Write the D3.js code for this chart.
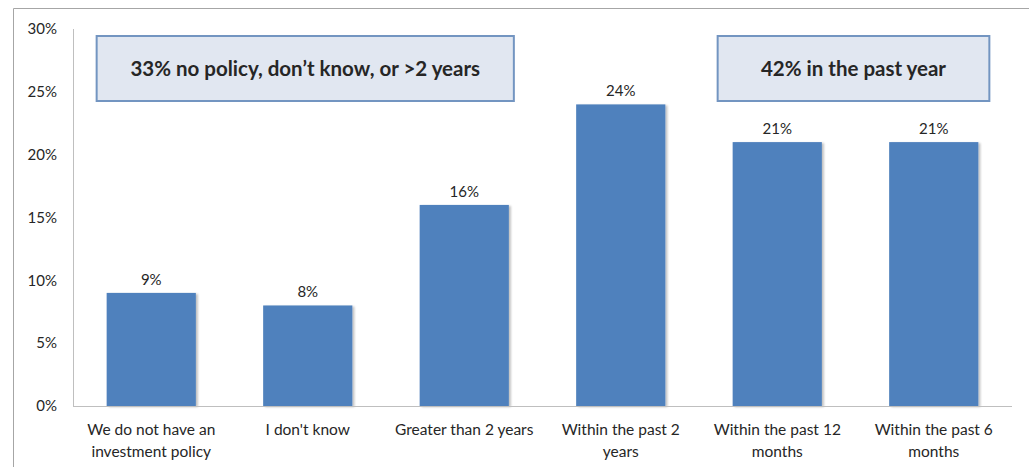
<!DOCTYPE html>
<html>
<head>
<meta charset="utf-8">
<script src="https://cdn.jsdelivr.net/npm/d3@7"></script>
<style>
  html, body { margin: 0; padding: 0; background: #ffffff; }
  svg { display: block; font-family: Lato, "Open Sans", sans-serif; }
</style>
</head>
<body>
<svg id="chart" width="1029" height="467"></svg>
<script>
// Survey responses: when was the investment policy last reviewed
const categories = [
  ["We do not have an", "investment policy"],
  ["I don't know"],
  ["Greater than 2 years"],
  ["Within the past 2", "years"],
  ["Within the past 12", "months"],
  ["Within the past 6", "months"]
];
const shares = [9, 8, 16, 24, 21, 21];
const yTicks = [0, 5, 10, 15, 20, 25, 30];
const calloutTexts = ["33% no policy, don\u2019t know, or >2 years", "42% in the past year"];
const calloutSpans = [[0, 2], [4, 5]];

const svg = d3.select("#chart");
const W = 1029, H = 467;
const margin = { top: 29, right: 17, bottom: 61, left: 73 };
const innerW = W - margin.left - margin.right;
const innerH = H - margin.top - margin.bottom;

// outer chart frame (top and left edges)
svg.append("path")
  .attr("d", `M13.5,${H} L13.5,8.5 L${W},8.5`)
  .attr("fill", "none")
  .attr("stroke", "#a6a6a6")
  .attr("stroke-width", 1);

const g = svg.append("g").attr("transform", `translate(${margin.left},${margin.top})`);

const x = d3.scaleBand()
  .domain(d3.range(categories.length))
  .range([0, innerW])
  .paddingInner(0.43)
  .paddingOuter(0.215);

const y = d3.scaleLinear().domain([0, 30]).range([innerH, 0]);

// y axis
const yAxis = d3.axisLeft(y)
  .tickValues(yTicks)
  .tickSize(0)
  .tickPadding(16)
  .tickFormat(d => d + "%");
const ya = g.append("g").call(yAxis);
ya.select(".domain").attr("stroke", "#bfbfbf").attr("d", `M0.5,0 V${innerH}`);
ya.selectAll("text")
  .attr("font-size", 15)
  .attr("fill", "#262626")
  .attr("font-family", "Lato, sans-serif");

// bars with a soft drop shadow
const defs = svg.append("defs");
const filt = defs.append("filter").attr("id", "shadow").attr("x", "-10%").attr("y", "-10%")
  .attr("width", "130%").attr("height", "130%");
filt.append("feGaussianBlur").attr("in", "SourceAlpha").attr("stdDeviation", 1.2).attr("result", "b");
filt.append("feOffset").attr("in", "b").attr("dx", 2).attr("dy", 1).attr("result", "o");
filt.append("feComponentTransfer").attr("in", "o").attr("result", "s")
  .append("feFuncA").attr("type", "linear").attr("slope", 0.25);
const fm = filt.append("feMerge");
fm.append("feMergeNode").attr("in", "s");
fm.append("feMergeNode").attr("in", "SourceGraphic");

g.selectAll("rect.bar")
  .data(shares)
  .join("rect")
  .attr("class", "bar")
  .attr("x", (d, i) => x(i))
  .attr("y", d => y(d))
  .attr("width", x.bandwidth())
  .attr("height", d => innerH - y(d))
  .attr("fill", "#4f81bd")
  .attr("filter", "url(#shadow)");

// x baseline
g.append("line")
  .attr("x1", 0).attr("x2", innerW)
  .attr("y1", innerH + 0.5).attr("y2", innerH + 0.5)
  .attr("stroke", "#bfbfbf");

// value labels
g.selectAll("text.val")
  .data(shares)
  .join("text")
  .attr("class", "val")
  .attr("x", (d, i) => x(i) + x.bandwidth() / 2)
  .attr("y", d => y(d) - 8)
  .attr("text-anchor", "middle")
  .attr("font-size", 15)
  .attr("fill", "#262626")
  .text(d => d + "%");

// category labels
const cat = g.selectAll("text.cat")
  .data(categories)
  .join("text")
  .attr("class", "cat")
  .attr("text-anchor", "middle")
  .attr("font-size", 15.5)
  .attr("fill", "#262626")
  .attr("transform", (d, i) => `translate(${x(i) + x.bandwidth() / 2},${innerH + 29})`);
cat.selectAll("tspan")
  .data(d => d)
  .join("tspan")
  .attr("x", 0)
  .attr("dy", (d, j) => j === 0 ? 0 : 22)
  .text(d => d);

// summary callout boxes spanning groups of categories
const boxTop = y(30) + 7, boxH = 65;
const boxPad = [[10, 5], [15, 11]]; // left / right overhang beyond the spanned bars
const callouts = calloutTexts.map((t, k) => {
  const [a, b] = calloutSpans[k];
  const x0 = x(a) - boxPad[k][0];
  const x1 = x(b) + x.bandwidth() + boxPad[k][1];
  return { text: t, x0, x1 };
});
const cg = g.selectAll("g.callout")
  .data(callouts)
  .join("g")
  .attr("class", "callout");
cg.append("rect")
  .attr("x", d => d.x0)
  .attr("y", boxTop)
  .attr("width", d => d.x1 - d.x0)
  .attr("height", boxH)
  .attr("fill", "#e1e7f1")
  .attr("stroke", "#7395c1")
  .attr("stroke-width", 2);
cg.append("text")
  .attr("x", d => (d.x0 + d.x1) / 2)
  .attr("y", boxTop + boxH / 2 + 7)
  .attr("text-anchor", "middle")
  .attr("font-size", 20.5)
  .attr("font-weight", 700)
  .attr("fill", "#262626")
  .text(d => d.text);
</script>
</body>
</html>
